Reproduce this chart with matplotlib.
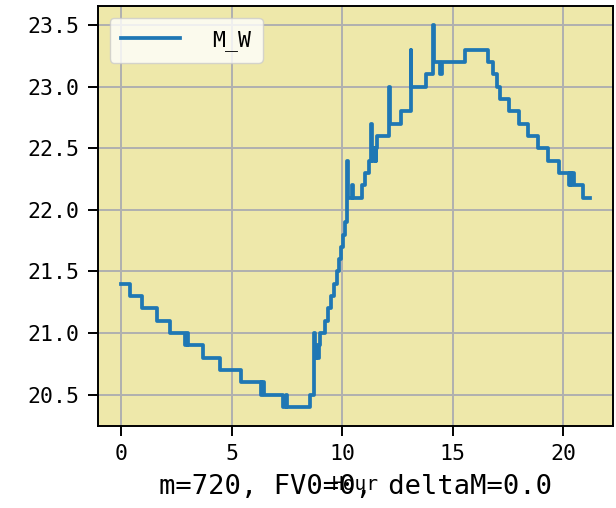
import matplotlib
matplotlib.use("Agg")
from matplotlib import pyplot as plt

# 水温记录：每一段的起始时刻(小时)和该段的数值
hours = [0.00, 0.41, 0.95, 1.61, 2.22, 2.91, 2.96, 3.01, 3.69, 4.48,
         5.43, 6.33, 6.38, 6.45, 7.31, 7.45, 7.50, 8.57, 8.74, 8.78,
         8.84, 8.88, 8.94, 9.00, 9.25, 9.38, 9.52, 9.64, 9.75, 9.85,
         9.95, 10.05, 10.13, 10.24, 10.28, 10.45, 10.49, 10.92, 11.04, 11.24,
         11.30, 11.34, 11.45, 11.52, 11.55, 11.60, 12.12, 12.16, 12.67, 13.10,
         13.14, 13.80, 14.10, 14.14, 14.42, 14.52, 15.58, 16.59, 16.82, 17.00,
         17.17, 17.55, 18.02, 18.43, 18.88, 19.33, 19.82, 20.25, 20.30, 20.36,
         20.42, 20.50, 20.92, 21.20]
m_w = [21.4, 21.3, 21.2, 21.1, 21.0, 20.9, 21.0, 20.9, 20.8, 20.7,
       20.6, 20.5, 20.6, 20.5, 20.4, 20.5, 20.4, 20.5, 21.0, 20.8,
       20.9, 20.8, 20.9, 21.0, 21.1, 21.2, 21.3, 21.4, 21.5, 21.6,
       21.7, 21.8, 21.9, 22.4, 22.1, 22.2, 22.1, 22.2, 22.3, 22.4,
       22.7, 22.4, 22.5, 22.4, 22.5, 22.6, 23.0, 22.7, 22.8, 23.3,
       23.0, 23.1, 23.5, 23.2, 23.1, 23.2, 23.3, 23.2, 23.1, 23.0,
       22.9, 22.8, 22.7, 22.6, 22.5, 22.4, 22.3, 22.2, 22.3, 22.2,
       22.3, 22.2, 22.1, 22.1]

m = 720
fv0 = 0
delta_m = 0.0

plt.rcParams['font.family'] = ['DejaVu Sans Mono', 'Noto Sans CJK SC']
plt.rcParams['axes.unicode_minus'] = False

fig = plt.figure(figsize=(6.16, 5.08), dpi=100)
ax = fig.add_axes([0.1586, 0.1614, 0.8364, 0.8266])
ax.set_facecolor('palegoldenrod')

ax.plot(hours, m_w, drawstyle='steps-post', color='#1f77b4', linewidth=2.7,
        solid_joinstyle='round', label='M_W')

ax.grid(True, color='#b0b0b0', linewidth=1.4)
ax.set_axisbelow(True)
for s in ax.spines.values():
    s.set_linewidth(1.4)
ax.tick_params(labelsize=15.5, length=7, width=1.4, pad=6)

ax.set_xlabel('Hour', fontsize=14, labelpad=8)
ax.text(0.5, -0.145, f'm={m}, FV0={fv0}, deltaM={delta_m}', transform=ax.transAxes,
        ha='center', va='center', fontsize=19.5)

ax.legend(loc='upper left', fontsize=15.5, handlelength=2.7, handletextpad=1.5,
          framealpha=0.8, borderpad=0.55, borderaxespad=0.55)

plt.savefig('out.png', dpi=100)
